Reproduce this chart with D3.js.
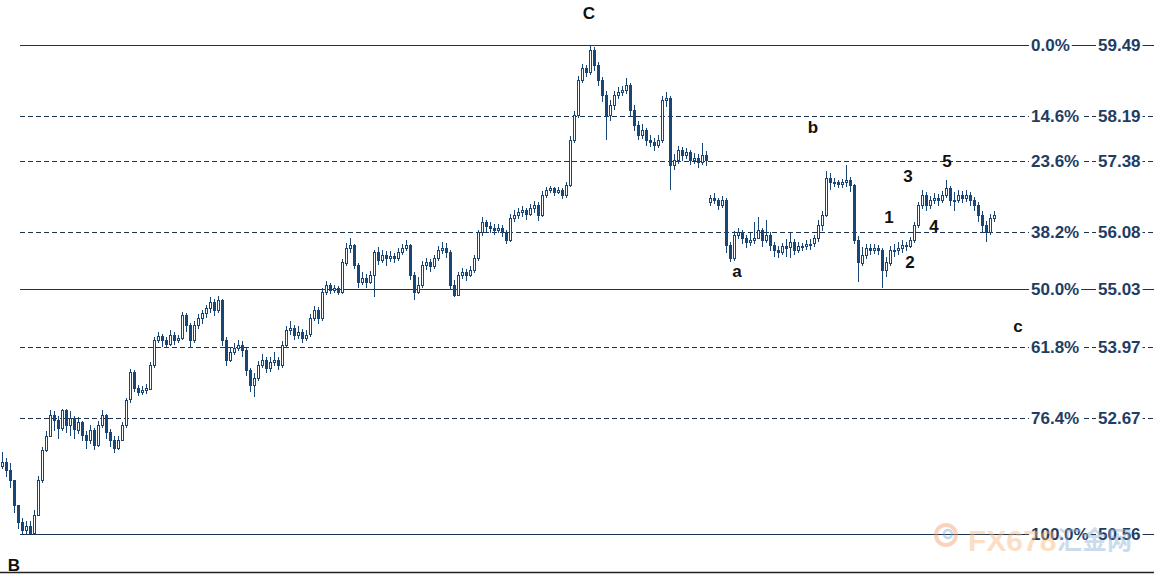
<!DOCTYPE html>
<meta charset="utf-8">
<style>
  body {
    margin: 0;
    background: #ffffff;
    font-family: "Liberation Sans", Arial, sans-serif;
  }
  .fib line {
    stroke: #1c3450;
    stroke-width: 1;
    shape-rendering: crispEdges;
  }
  .fib text {
    fill: #1f3d63;
    font-size: 17px;
    font-weight: bold;
  }
  .candle {
    stroke: #184676;
    stroke-width: 1;
    shape-rendering: crispEdges;
  }
  .wave text {
    fill: #111111;
    font-size: 17px;
    font-weight: bold;
    text-anchor: middle;
  }
</style>
<body>
<script src="https://cdnjs.cloudflare.com/ajax/libs/d3/7.8.5/d3.min.js"></script>
<script>
// fibonacci retracement levels
var fibPct = ["0.0%", "14.6%", "23.6%", "38.2%", "50.0%", "61.8%", "76.4%", "100.0%"];
var fibPrice = [59.49, 58.19, 57.38, 56.08, 55.03, 53.97, 52.67, 50.56];
var fibSolid = [true, false, false, false, true, false, false, true];

// closing prices, one candle after another
var closes = [
  51.87, 51.73, 51.55, 51.09, 50.78, 50.63, 50.71, 50.59, 50.91, 51.55,
  52.09, 52.35, 52.73, 52.64, 52.49, 52.82, 52.55, 52.67, 52.46, 52.60,
  52.37, 52.28, 52.46, 52.19, 52.55, 52.73, 52.42, 52.28, 52.13, 52.28,
  52.55, 53.01, 53.51, 53.22, 53.15, 53.19, 53.22, 53.65, 54.10, 54.18,
  54.10, 54.03, 54.20, 54.10, 54.14, 54.56, 54.38, 54.10, 54.38, 54.50,
  54.60, 54.69, 54.80, 54.65, 54.83, 54.10, 53.74, 53.88, 53.96, 54.01,
  53.92, 53.55, 53.28, 53.41, 53.65, 53.74, 53.59, 53.70, 53.74, 53.65,
  54.01, 54.29, 54.32, 54.20, 54.25, 54.14, 54.20, 54.50, 54.65, 54.50,
  54.98, 55.11, 55.02, 55.05, 54.98, 55.52, 55.79, 55.84, 55.47, 55.16,
  55.24, 55.16, 55.29, 55.71, 55.56, 55.66, 55.60, 55.64, 55.60, 55.71,
  55.79, 55.84, 55.29, 54.98, 55.11, 55.47, 55.52, 55.45, 55.60, 55.75,
  55.79, 55.71, 55.11, 54.93, 55.29, 55.34, 55.29, 55.38, 55.60, 56.07,
  56.26, 56.18, 56.15, 56.11, 56.15, 56.07, 55.93, 56.33, 56.39, 56.44,
  56.48, 56.40, 56.51, 56.57, 56.39, 56.75, 56.84, 56.88, 56.81, 56.84,
  56.75, 56.93, 57.76, 58.21, 58.85, 59.07, 59.00, 59.40, 59.13, 58.85,
  58.58, 58.21, 58.39, 58.58, 58.63, 58.67, 58.76, 58.30, 58.03, 57.85,
  57.94, 57.76, 57.72, 57.66, 57.76, 58.49, 58.52, 57.30, 57.39, 57.57,
  57.48, 57.54, 57.39, 57.43, 57.35, 57.48, 57.39, 56.70, 56.66, 56.57,
  56.66, 55.84, 55.60, 56.02, 56.07, 55.96, 55.89, 55.93, 55.96, 56.11,
  55.93, 56.02, 55.84, 55.75, 55.71, 55.82, 55.79, 55.89, 55.75, 55.82,
  55.82, 55.86, 55.86, 55.96, 56.20, 56.39, 57.06, 56.98, 56.98, 56.95,
  56.98, 57.02, 56.93, 55.93, 55.52, 55.66, 55.79, 55.75, 55.79, 55.75,
  55.38, 55.52, 55.75, 55.75, 55.79, 55.84, 55.82, 55.93, 56.20, 56.57,
  56.75, 56.57, 56.66, 56.70, 56.66, 56.75, 56.88, 56.66, 56.66, 56.75,
  56.70, 56.75, 56.66, 56.57, 56.39, 56.20, 56.07, 56.33, 56.39
];

// top of each candle's wick
var highs = [
  52.05, 51.95, 51.85, 51.50, 51.05, 50.85, 50.80, 50.80, 51.00, 51.62,
  52.15, 52.45, 52.82, 52.80, 52.72, 52.85, 52.84, 52.80, 52.72, 52.70,
  52.62, 52.45, 52.55, 52.50, 52.62, 52.82, 52.75, 52.48, 52.35, 52.35,
  52.60, 53.05, 53.58, 53.55, 53.28, 53.26, 53.30, 53.70, 54.15, 54.25,
  54.22, 54.15, 54.28, 54.25, 54.20, 54.62, 54.60, 54.42, 54.45, 54.58,
  54.65, 54.75, 54.88, 54.85, 54.90, 54.85, 54.15, 53.98, 54.05, 54.10,
  54.08, 53.95, 53.60, 53.50, 53.72, 53.85, 53.80, 53.80, 53.88, 53.80,
  54.08, 54.35, 54.45, 54.38, 54.35, 54.30, 54.28, 54.58, 54.72, 54.70,
  55.05, 55.18, 55.15, 55.10, 55.08, 55.58, 55.88, 55.97, 55.85, 55.50,
  55.35, 55.30, 55.36, 55.75, 55.80, 55.75, 55.72, 55.72, 55.70, 55.78,
  55.85, 55.93, 55.86, 55.35, 55.25, 55.55, 55.60, 55.58, 55.66, 55.82,
  55.90, 55.88, 55.75, 55.20, 55.35, 55.42, 55.40, 55.45, 55.66, 56.12,
  56.35, 56.30, 56.25, 56.22, 56.22, 56.20, 56.12, 56.40, 56.48, 56.52,
  56.55, 56.52, 56.58, 56.65, 56.62, 56.82, 56.90, 56.92, 56.90, 56.90,
  56.88, 56.98, 57.82, 58.28, 58.92, 59.15, 59.12, 59.49, 59.45, 59.18,
  58.90, 58.65, 58.48, 58.65, 58.72, 58.75, 58.89, 58.80, 58.40, 58.10,
  58.05, 57.98, 57.85, 57.80, 57.85, 58.55, 58.63, 58.55, 57.50, 57.65,
  57.62, 57.60, 57.58, 57.52, 57.50, 57.70, 57.55, 56.75, 56.78, 56.70,
  56.74, 56.70, 55.90, 56.10, 56.15, 56.12, 56.02, 56.05, 56.25, 56.35,
  56.15, 56.30, 56.08, 55.90, 55.82, 55.88, 55.95, 56.05, 55.95, 55.90,
  55.88, 55.92, 55.95, 56.02, 56.30, 56.45, 57.18, 57.15, 57.06, 57.02,
  57.05, 57.30, 57.08, 56.95, 56.00, 55.80, 55.86, 55.85, 55.86, 55.84,
  55.78, 55.62, 55.82, 55.85, 55.90, 55.92, 55.90, 55.98, 56.26, 56.62,
  56.85, 56.80, 56.74, 56.78, 56.76, 56.82, 57.02, 56.92, 56.80, 56.85,
  56.82, 56.85, 56.80, 56.72, 56.62, 56.45, 56.28, 56.40, 56.45
];

// bottom of each candle's wick
var lows = [
  51.75, 51.60, 51.40, 50.95, 50.65, 50.56, 50.56, 50.56, 50.58, 50.90,
  51.50, 52.05, 52.35, 52.45, 52.30, 52.45, 52.40, 52.35, 52.30, 52.38,
  52.25, 52.12, 52.20, 52.10, 52.15, 52.50, 52.30, 52.15, 52.04, 52.10,
  52.25, 52.50, 52.95, 53.15, 53.08, 53.10, 53.12, 53.20, 53.60, 54.05,
  53.98, 53.95, 54.00, 54.02, 54.05, 54.10, 54.25, 53.95, 54.05, 54.30,
  54.40, 54.50, 54.60, 54.55, 54.60, 54.00, 53.62, 53.70, 53.82, 53.90,
  53.80, 53.45, 53.15, 53.06, 53.35, 53.60, 53.50, 53.52, 53.62, 53.55,
  53.60, 53.95, 54.20, 54.10, 54.12, 54.05, 54.08, 54.15, 54.45, 54.40,
  54.45, 54.92, 54.95, 54.96, 54.92, 54.95, 55.45, 55.70, 55.40, 55.05,
  55.10, 55.05, 55.12, 54.89, 55.48, 55.50, 55.45, 55.52, 55.50, 55.55,
  55.65, 55.72, 55.20, 54.83, 54.95, 55.05, 55.38, 55.35, 55.40, 55.55,
  55.68, 55.60, 55.02, 54.89, 54.95, 55.22, 55.18, 55.25, 55.32, 55.55,
  56.00, 56.08, 56.05, 56.02, 56.05, 55.98, 55.85, 55.90, 56.25, 56.32,
  56.35, 56.30, 56.36, 56.42, 56.28, 56.35, 56.70, 56.78, 56.74, 56.76,
  56.68, 56.70, 56.90, 57.70, 58.15, 58.80, 58.90, 58.95, 59.02, 58.75,
  58.45, 57.76, 58.10, 58.30, 58.50, 58.55, 58.60, 58.20, 57.92, 57.75,
  57.78, 57.65, 57.62, 57.55, 57.60, 57.70, 58.35, 56.84, 57.20, 57.32,
  57.38, 57.40, 57.30, 57.32, 57.25, 57.30, 57.28, 56.55, 56.58, 56.48,
  56.52, 55.70, 55.52, 55.55, 55.95, 55.85, 55.78, 55.82, 55.85, 55.95,
  55.80, 55.88, 55.72, 55.62, 55.60, 55.65, 55.62, 55.60, 55.66, 55.70,
  55.72, 55.75, 55.75, 55.80, 55.90, 56.10, 56.35, 56.85, 56.90, 56.88,
  56.88, 56.90, 56.80, 55.85, 55.16, 55.45, 55.58, 55.65, 55.68, 55.66,
  55.05, 55.25, 55.45, 55.62, 55.65, 55.70, 55.72, 55.78, 55.88, 56.15,
  56.50, 56.45, 56.50, 56.58, 56.55, 56.60, 56.70, 56.55, 56.45, 56.60,
  56.60, 56.62, 56.55, 56.45, 56.25, 56.05, 55.89, 56.02, 56.25
];

// candles that open away from the previous close (start of data, weekend gap)
var gapOpens = [[0, 51.80], [177, 56.62]];

// wave labels
var waveText = ["C", "B", "a", "b", "c", "1", "2", "3", "4", "5"];
var waveX = [589, 14, 737, 813, 1018, 889, 910, 908, 934, 947];
var waveY = [19, 571, 277, 133, 332, 223, 268, 182, 232, 167];

var width = 1154,
    height = 574;

var svg = d3.select("body").append("svg")
    .attr("width", width)
    .attr("height", height);

var x = d3.scaleLinear()
    .domain([0, closes.length - 1])
    .range([2, 994]);

var y = d3.scaleLinear()
    .domain([50.56, 59.49])
    .range([534, 45]);

var candles = closes.map(function(c, i) {
  var o = i > 0 ? closes[i - 1] : c;
  gapOpens.forEach(function(g) { if (g[0] == i) o = g[1]; });
  return {
    i: i, open: o, close: c,
    high: Math.max(highs[i], o, c),
    low: Math.min(lows[i], o, c)
  };
});

// fib lines
var fib = svg.append("g").attr("class", "fib");
fibPrice.forEach(function(p, k) {
  fib.append("line")
    .attr("x1", 20)
    .attr("x2", width)
    .attr("y1", Math.round(y(p)) + 0.5)
    .attr("y2", Math.round(y(p)) + 0.5)
    .style("stroke-dasharray", fibSolid[k] ? null : "5,3");
});

// candles
var g = svg.append("g");
g.selectAll("line.wick")
  .data(candles)
  .enter()
  .append("line")
  .attr("class", "candle wick")
  .attr("x1", function(d) { return Math.round(x(d.i)) + 0.5; })
  .attr("x2", function(d) { return Math.round(x(d.i)) + 0.5; })
  .attr("y1", function(d) { return Math.round(y(d.high)); })
  .attr("y2", function(d) { return Math.round(y(d.low)); });

g.selectAll("rect")
  .data(candles)
  .enter()
  .append("rect")
  .attr("class", "candle")
  .attr("x", function(d) { return Math.round(x(d.i)) - 1 + 0.5; })
  .attr("width", 2)
  .attr("y", function(d) { return Math.round(y(Math.max(d.open, d.close))) + 0.5; })
  .attr("height", function(d) { return Math.max(1, Math.round(Math.abs(y(d.open) - y(d.close)))); })
  .style("fill", function(d) { return d.close >= d.open ? "#ffffff" : "#184676"; });

// level labels with white boxes that break the lines
var labels = svg.append("g").attr("class", "fib");
fibPrice.forEach(function(p, k) {
  var ty = y(p) + 6;
  [[1031, fibPct[k]], [1098, p.toFixed(2)]].forEach(function(t) {
    var txt = labels.append("text")
      .attr("x", t[0])
      .attr("y", ty)
      .text(t[1]);
    var b = txt.node().getBBox();
    labels.insert("rect", function() { return txt.node(); })
      .attr("x", b.x - 2)
      .attr("y", b.y + 2)
      .attr("width", b.width + 4)
      .attr("height", b.height - 4)
      .style("fill", "#ffffff");
  });
});

// wave letters
var wave = svg.append("g").attr("class", "wave");
wave.selectAll("text")
  .data(waveText)
  .enter()
  .append("text")
  .attr("x", function(d, i) { return waveX[i]; })
  .attr("y", function(d, i) { return waveY[i]; })
  .text(function(d) { return d; });

// bottom frame line
svg.append("line")
  .attr("x1", 0)
  .attr("x2", width)
  .attr("y1", 572.5)
  .attr("y2", 572.5)
  .style("stroke", "#222222")
  .style("stroke-width", 1.5);

// faint watermark
var wm = svg.append("g").style("opacity", 0.45);
wm.append("circle")
  .attr("cx", 946).attr("cy", 535).attr("r", 10)
  .style("fill", "none")
  .style("stroke", "#f0a070")
  .style("stroke-width", 4);
wm.append("circle")
  .attr("cx", 948).attr("cy", 534).attr("r", 4)
  .style("fill", "none")
  .style("stroke", "#7fa6d0")
  .style("stroke-width", 2.5);
wm.append("text")
  .attr("x", 968).attr("y", 551)
  .style("font-size", "30px")
  .style("font-weight", "bold")
  .style("fill", "#f7b77e")
  .text("FX678");
wm.append("text")
  .attr("x", 1057).attr("y", 549)
  .style("font-size", "25px")
  .style("font-weight", "bold")
  .style("font-family", "'Noto Sans CJK SC', sans-serif")
  .style("fill", "#8fb0d6")
  .text("汇金网");
</script>
